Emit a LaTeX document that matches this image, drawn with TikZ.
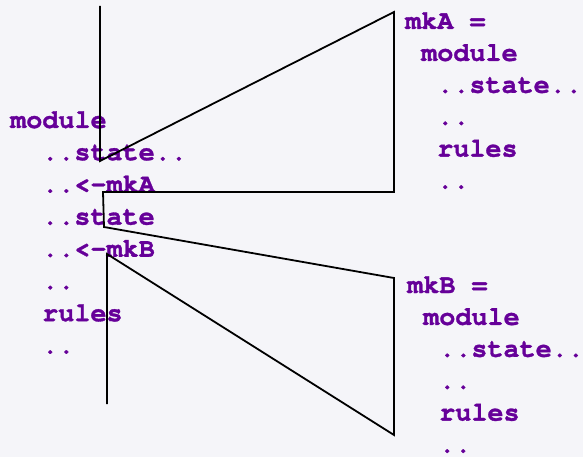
\documentclass[tikz,border=0pt]{standalone}
\usepackage{fontspec}
\setmonofont[BoldFeatures={FakeBold=1.2}]{TeX Gyre Cursor}
\definecolor{codepurple}{RGB}{102,0,153}
\definecolor{slidebg}{RGB}{245,245,249}
\begin{document}
\begin{tikzpicture}[x=1pt, y=-1pt, line join=miter, line cap=butt]
			\tikzset{code/.style={anchor=base west, inner sep=0pt, text=codepurple, font=\fontsize{26.8}{32}\ttfamily\bfseries}}
			\fill[slidebg] (0,0) rectangle (583,457);
			\useasboundingbox (0,0) rectangle (583,457);
			% main module
			\foreach \k/\ind/\txt in {0/0/module, 1/2/..state.., 2/2/..<-mkA, 3/2/..state, 4/2/..<-mkB, 5/2/.., 6/2/rules, 7/2/..}
			\node[code] (main\k) at (10+\ind*16, 128+\k*32.2) {\txt};
			% mkA
			\foreach \k/\ind/\txt in {0/0/mkA =, 1/1/module, 2/2/..state.., 3/2/.., 4/2/rules, 5/2/..}
			\node[code] (mkA\k) at (405+\ind*16, 29+\k*31.9) {\txt};
			% mkB
			\foreach \k/\ind/\txt in {0/0/mkB =, 1/1/module, 2/2/..state.., 3/2/.., 4/2/rules, 5/2/..}
			\node[code] (mkB\k) at (407+\ind*16, 293+\k*31.9) {\txt};
			% funnel outline
			\coordinate (topA) at (100,6);
			\coordinate (tipA) at (100,161);
			\coordinate (farA) at (394,12);
			\coordinate (endA) at (394,192);
			\coordinate (backA) at (103,192);
			\coordinate (tipB) at (104,227);
			\coordinate (farB) at (394,278);
			\coordinate (endB) at (394,435);
			\coordinate (backB) at (107,254);
			\coordinate (botB) at (107,404);
			\draw[line width=1.8pt] (topA)--(tipA)--(farA)--(endA)--(backA)--(tipB)--(farB)--(endB)--(backB)--(botB);
			\end{tikzpicture}
\end{document}
